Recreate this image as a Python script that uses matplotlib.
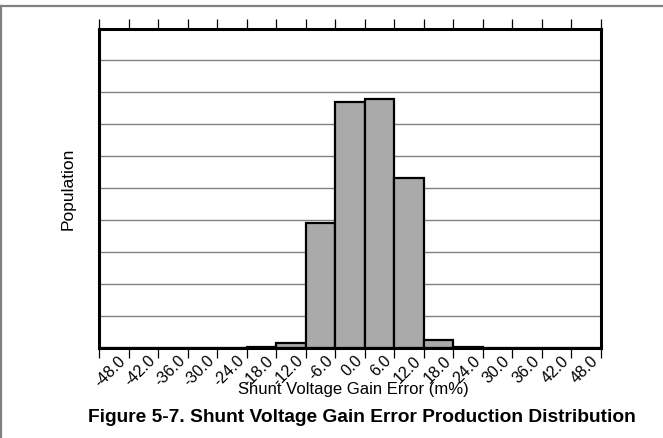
import matplotlib
matplotlib.use("Agg")
import matplotlib.pyplot as plt
from matplotlib.lines import Line2D
import numpy as np

plt.rcParams['font.family'] = ['Liberation Sans', 'DejaVu Sans']

categories = ["-48.0", "-42.0", "-36.0", "-30.0", "-24.0", "-18.0", "-12.0", "-6.0",
              "0.0", "6.0", "12.0", "18.0", "24.0", "30.0", "36.0", "42.0", "48.0"]
population = [0, 0, 0, 0, 0, 0.02, 0.15, 3.90, 7.70, 7.78, 5.33, 0.26, 0.02, 0, 0, 0, 0]

x_label = "Shunt Voltage Gain Error (m%)"
y_label = "Population"
caption = "Figure 5-7. Shunt Voltage Gain Error Production Distribution"

fig = plt.figure(figsize=(6.63, 4.39), dpi=100)
ax_l, ax_r, ax_t, ax_b = 99, 601, 29.5, 349
ax = fig.add_axes([ax_l/663, 1-ax_b/439, (ax_r-ax_l)/663, (ax_b-ax_t)/439])

pos = np.arange(len(categories))
ax.bar(pos, population, width=1.0, color="#aaaaaa", edgecolor="black", linewidth=1.6, zorder=3)

ax.set_xlim(-0.5, len(categories) - 0.5)
ax.set_ylim(0, 10)

# horizontal grid
ax.set_yticks(np.arange(0, 11, 1))
ax.yaxis.grid(True, color="#808080", linewidth=1.0, zorder=0)
ax.tick_params(axis="y", left=False, labelleft=False)

# ticks at bin edges (top & bottom), labels at bin centres
ax.set_xticks(np.arange(-0.5, len(categories), 1.0))
ax.set_xticklabels([])
ax.tick_params(axis="x", which="major", direction="out", length=7, width=0.9,
               top=True, bottom=True, color="black")
ax.set_xticks(pos + 0.15, minor=True)
ax.set_xticklabels(categories, minor=True, rotation=45, ha="right",
                   rotation_mode="anchor", fontsize=11.5)
ax.tick_params(axis="x", which="minor", length=0, pad=3, top=False)

for s in ax.spines.values():
    s.set_linewidth(2.2)
    s.set_color("black")
    s.set_zorder(4)

w, h = ax_r - ax_l, ax_b - ax_t
ax.set_xlabel(x_label, fontsize=12)
ax.xaxis.label.set_verticalalignment("center")
ax.xaxis.set_label_coords((353 - ax_l) / w, (ax_b - 390) / h)
ax.set_ylabel(y_label, fontsize=12.5)
ax.yaxis.label.set_verticalalignment("center")
ax.yaxis.set_label_coords((68 - ax_l) / w, 0.5)

fig.text(362/663, 1-418/439, caption, ha="center", va="center",
         fontsize=13.8, fontweight="bold")

# figure frame lines (top & left)
fig.add_artist(Line2D([0, 1], [1-7/439, 1-7/439], color="#808080", linewidth=1.6,
                      transform=fig.transFigure))
fig.add_artist(Line2D([1.2/663, 1.2/663], [0, 1-7/439], color="#808080", linewidth=1.6,
                      transform=fig.transFigure))

fig.savefig("out.png", dpi=100)
